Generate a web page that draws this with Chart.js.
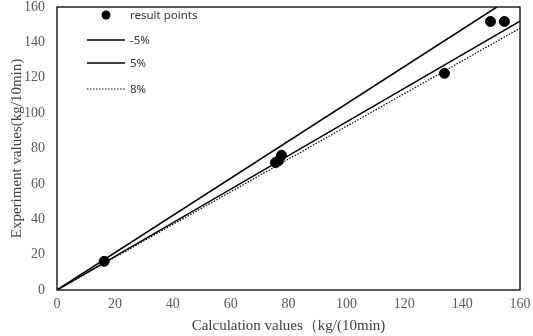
<!DOCTYPE html>
<html><head><meta charset="utf-8">
<script src="https://cdn.jsdelivr.net/npm/chart.js@4/dist/chart.umd.min.js"></script>
<style>html,body{margin:0;padding:0;background:#fff}#wrap{width:533px;height:336px}</style>
</head><body><div id="wrap"><canvas id="c" width="533" height="336"></canvas></div>
<script>
const resultX = [16.3, 75.5, 76.5, 77.6, 133.9, 149.8, 154.6];
const resultY = [16.2, 72.0, 73.0, 76.2, 122.5, 151.8, 151.8];
const lineMinus5 = [[0, 0], [152, 160]];
const linePlus5 = [[0, 0], [160, 152]];
const linePlus8 = [[0, 0], [160, 148]];
const seriesLabels = ['result points', '-5%', '5%', '8%'];
const axisTicks = [0, 20, 40, 60, 80, 100, 120, 140, 160];
const xTitle = 'Calculation values（kg/(10min)';
const yTitle = 'Experiment values(kg/10min)';

const toPts = a => a.map(p => ({x: p[0], y: p[1]}));

const boxPlugin = {
  id: 'box',
  afterDatasetsDraw(chart) {
    const {ctx, chartArea: a} = chart;
    ctx.save();
    ctx.strokeStyle = '#000';
    ctx.lineWidth = 1.3;
    ctx.strokeRect(a.left, a.top, a.right - a.left, a.bottom - a.top);
    ctx.restore();
  }
};

const legendPlugin = {
  id: 'customLegend',
  afterDraw(chart) {
    const {ctx} = chart;
    ctx.save();
    ctx.font = '11.5px "Noto Sans", "DejaVu Sans", sans-serif';
    ctx.fillStyle = '#333';
    ctx.textBaseline = 'middle';
    const rows = [15, 40, 63, 89];
    chart.data.datasets.forEach((ds, i) => {
      const y = rows[i];
      if (i === 0) {
        ctx.beginPath();
        ctx.fillStyle = '#000';
        ctx.arc(106, y, 4.5, 0, Math.PI * 2);
        ctx.fill();
        ctx.fillStyle = '#333';
        ctx.fillText(ds.label, 130, y + 0.5);
      } else {
        ctx.beginPath();
        ctx.strokeStyle = '#000';
        ctx.lineWidth = ds.borderWidth;
        ctx.setLineDash(ds.borderDash || []);
        ctx.moveTo(87, y);
        ctx.lineTo(125, y);
        ctx.stroke();
        ctx.setLineDash([]);
        ctx.fillStyle = '#333';
        ctx.fillText(ds.label, 130, y + 0.5);
      }
    });
    ctx.restore();
  }
};

new Chart(document.getElementById('c'), {
  type: 'scatter',
  data: {
    datasets: [
      {label: seriesLabels[0], data: resultX.map((x, i) => ({x, y: resultY[i]})),
       backgroundColor: '#000', borderColor: '#000', pointRadius: 5, pointHoverRadius: 5, order: 0},
      {label: seriesLabels[1], type: 'line', data: toPts(lineMinus5), borderColor: '#000',
       borderWidth: 1.5, pointRadius: 0, fill: false, order: 1},
      {label: seriesLabels[2], type: 'line', data: toPts(linePlus5), borderColor: '#000',
       borderWidth: 1.5, pointRadius: 0, fill: false, order: 1},
      {label: seriesLabels[3], type: 'line', data: toPts(linePlus8), borderColor: '#000',
       borderWidth: 1.2, borderDash: [1.5, 1.5], pointRadius: 0, fill: false, order: 1}
    ]
  },
  options: {
    responsive: false,
    animation: false,
    events: [],
    layout: {padding: {top: 7, right: 13, left: 0, bottom: 0}},
    plugins: {legend: {display: false}, tooltip: {enabled: false}},
    scales: {
      x: {
        type: 'linear', min: 0, max: 160,
        afterBuildTicks: s => { s.ticks = axisTicks.map(v => ({value: v})); },
        afterFit: s => { s.height = 46; s.paddingRight = 0; s.paddingLeft = 0; },
        grid: {display: false, drawTicks: false},
        border: {display: false},
        ticks: {color: '#595959', padding: 6, maxRotation: 0,
                font: {family: '"Liberation Serif", "Times New Roman", serif', size: 14}},
        title: {display: true, text: xTitle, color: '#404040', padding: {top: 0, bottom: 1},
                font: {family: '"Liberation Serif", "Times New Roman", serif', size: 15}}
      },
      y: {
        type: 'linear', min: 0, max: 160,
        afterBuildTicks: s => { s.ticks = axisTicks.map(v => ({value: v})); },
        afterFit: s => { s.width = 57; s.paddingTop = 0; s.paddingBottom = 0; },
        grid: {display: false, drawTicks: false},
        border: {display: false},
        ticks: {color: '#595959', padding: 12,
                font: {family: '"Liberation Serif", "Times New Roman", serif', size: 14}},
        title: {display: true, text: yTitle, color: '#404040', padding: {top: 8, bottom: 0},
                font: {family: '"Liberation Serif", "Times New Roman", serif', size: 15}}
      }
    }
  },
  plugins: [boxPlugin, legendPlugin]
});
</script></body></html>
